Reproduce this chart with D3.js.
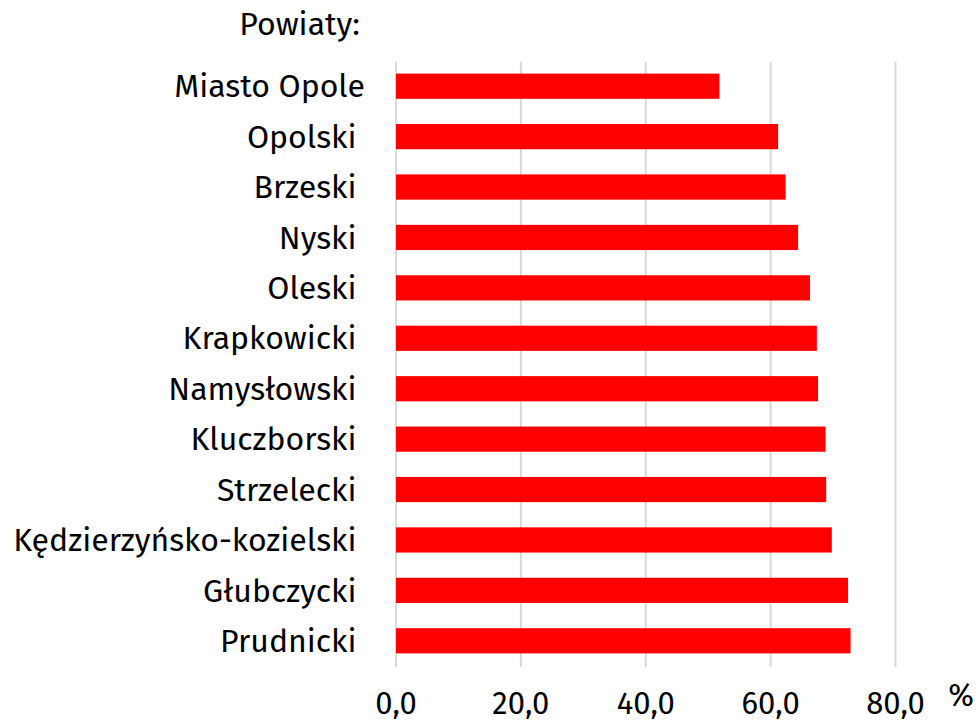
<!DOCTYPE html>
<html lang="pl">
<head>
    <meta charset="UTF-8">
    <title>Powiaty</title>
    <script src="https://d3js.org/d3.v7.min.js"></script>
    <style>
        body { margin: 0; background: #fff; }
        text { font-family: "Fira Sans", "Noto Sans", sans-serif; fill: #000; }
        .cat { font-size: 32px; white-space: pre; }
        .tick-label { font-size: 31px; }
        .grid line { stroke: #d9d9d9; stroke-width: 2px; }
    </style>
</head>
<body>
    <svg width="979" height="723"></svg>

    <script>
        const categories = ["Miasto Opole", "Opolski ", "Brzeski ", "Nyski ", "Oleski ", "Krapkowicki ",
            "Namysłowski ", "Kluczborski ", "Strzelecki ", "Kędzierzyńsko-kozielski ", "Głubczycki ", "Prudnicki "];
        const values = [51.8, 61.2, 62.4, 64.4, 66.3, 67.4, 67.6, 68.8, 68.9, 69.8, 72.4, 72.8];
        const ticks = [0, 20, 40, 60, 80];

        const svg = d3.select("svg");

        const x = d3.scaleLinear().domain([0, 80]).range([396, 895.5]);
        const y = d3.scaleBand().domain(categories).range([61, 666]).paddingInner(0.5).paddingOuter(0.25);

        // gridlines
        svg.append("g").attr("class", "grid")
            .selectAll("line")
            .data(ticks)
            .enter().append("line")
            .attr("x1", d => x(d)).attr("x2", d => x(d))
            .attr("y1", 62).attr("y2", 667);

        // bars
        svg.append("g")
            .selectAll("rect")
            .data(values)
            .enter().append("rect")
            .attr("x", x(0))
            .attr("y", (d, i) => y(categories[i]))
            .attr("width", d => x(d) - x(0))
            .attr("height", y.bandwidth())
            .attr("fill", "#ff0000");

        // category labels
        svg.append("g")
            .selectAll("text")
            .data(categories)
            .enter().append("text")
            .attr("class", "cat")
            .attr("x", 365)
            .attr("y", d => y(d) + y.bandwidth() / 2)
            .attr("dy", "0.35em")
            .attr("text-anchor", "end")
            .text(d => d);

        svg.append("text")
            .attr("class", "cat")
            .attr("x", 360).attr("y", 24)
            .attr("dy", "0.35em")
            .attr("text-anchor", "end")
            .text("Powiaty:");

        // x tick labels
        svg.append("g")
            .selectAll("text")
            .data(ticks)
            .enter().append("text")
            .attr("class", "tick-label")
            .attr("x", d => x(d))
            .attr("y", 703)
            .attr("dy", "0.35em")
            .attr("text-anchor", "middle")
            .text(d => d3.format(".1f")(d).replace(".", ","));

        svg.append("text")
            .attr("class", "tick-label")
            .attr("x", 961).attr("y", 695)
            .attr("dy", "0.35em")
            .attr("text-anchor", "middle")
            .text("%");
    </script>
</body>
</html>
